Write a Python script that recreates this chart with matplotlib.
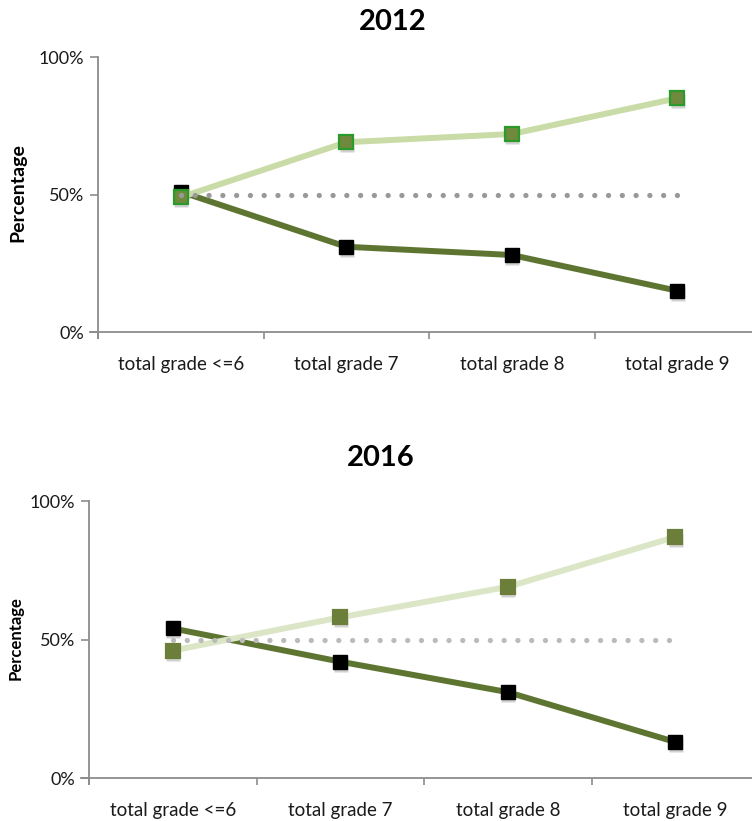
import numpy as np
import matplotlib
matplotlib.use('Agg')
import matplotlib.pyplot as plt
from matplotlib.transforms import offset_copy
from matplotlib.ticker import PercentFormatter

plt.rcParams['font.family'] = ['Lato', 'DejaVu Sans']

categories = ['total grade <=6', 'total grade 7', 'total grade 8', 'total grade 9']
yticks = [0, 50, 100]

# share of students per grade band (percent)
high_2012 = [49, 69, 72, 85]
low_2012 = [51, 31, 28, 15]
ref_2012 = [50, 50, 50, 50]

high_2016 = [46, 58, 69, 87]
low_2016 = [54, 42, 31, 13]
ref_2016 = [50, 50, 50, 50]

DARK = '#5e7532'
SPINE = '#8c8c8c'


def draw_panel(fig, rect, title, title_xy, ylab_xy, ylab_size,
               high, low, ref, light_color, high_face, high_edge, ref_color):
    ax = fig.add_axes(rect)
    x = np.arange(len(categories))
    shadow = offset_copy(ax.transData, fig=fig, x=0.5, y=-3, units='dots')

    # soft drop shadow under the markers
    for vals in (low, high):
        ax.plot(x, vals, ls='none', marker='s', ms=10, color='#000000',
                alpha=0.18, mec='none', transform=shadow, zorder=2)

    ax.plot(x, low, color=DARK, lw=4.3, marker='s', ms=9.5,
            mfc='black', mec='black', zorder=3)
    ax.plot(x, high, color=light_color, lw=4.3, marker='s', ms=9.5,
            mfc=high_face, mec=high_edge, mew=1.6, zorder=4)
    ax.plot(x, ref, color=ref_color, lw=3.8, ls=(0, (0.01, 2.6)),
            dash_capstyle='round', zorder=5)

    ax.set_xlim(-0.5, len(categories) - 0.5)
    ax.set_ylim(0, 100)
    ax.set_yticks(yticks)
    ax.yaxis.set_major_formatter(PercentFormatter(decimals=0))
    ax.set_xticks(x)
    ax.set_xticklabels(categories)
    ax.set_xticks(np.arange(len(categories) + 1) - 0.5, minor=True)
    ax.tick_params(axis='x', which='major', length=0, pad=17, labelsize=13.5,
                   labelcolor='#1a1a1a')
    ax.tick_params(axis='x', which='minor', length=5, color=SPINE, width=1.2,
                   direction='out')
    ax.tick_params(axis='y', length=6, color=SPINE, width=1.2, labelsize=13,
                   labelcolor='#1a1a1a', pad=4)
    for side in ('top', 'right'):
        ax.spines[side].set_visible(False)
    for side in ('left', 'bottom'):
        ax.spines[side].set_color(SPINE)
        ax.spines[side].set_linewidth(1.3)
    ax.spines['bottom'].set_bounds(-0.55, len(categories) - 0.5)
    ax.spines['left'].set_bounds(-2.0, 100)
    ax.spines['left'].set_clip_on(False)

    fig.text(title_xy[0], title_xy[1], title, ha='center', va='center',
             fontsize=21, fontweight='bold')
    fig.text(ylab_xy[0], ylab_xy[1], 'Percentage', ha='center', va='center',
             rotation=90, fontsize=ylab_size, fontweight='bold')
    return ax


fig = plt.figure(figsize=(7.52, 8.21), dpi=100)

draw_panel(fig, [98 / 752, 1 - 332 / 821, 662 / 752, 275 / 821], '2012',
           (393 / 752, 1 - 22 / 821), (18 / 752, 1 - 193 / 821), 14,
           high_2012, low_2012, ref_2012,
           '#c9dba6', '#6f8a3c', '#2a9a2a', '#999999')

draw_panel(fig, [89 / 752, 1 - 778 / 821, 670 / 752, 277 / 821], '2016',
           (381 / 752, 1 - 458 / 821), (16 / 752, 1 - 638 / 821), 12,
           high_2016, low_2016, ref_2016,
           '#dbe6c6', '#6b7f3a', '#6b7f3a', '#bbbbbb')

fig.savefig('out.png', dpi=100)
